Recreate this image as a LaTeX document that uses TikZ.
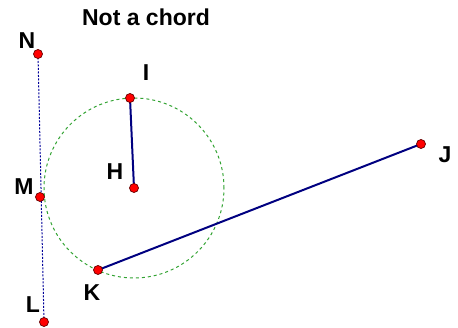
\documentclass[tikz,border=0pt]{standalone}
\usepackage{fontspec}
\setmainfont{Liberation Sans}
\usetikzlibrary{backgrounds}

\begin{document}
\begin{tikzpicture}[
  x=1pt,y=-1pt,
  font=\fontsize{23}{27}\selectfont\bfseries,
  pt/.style={circle,fill=red,draw=red!40!black,line width=0.7pt,inner sep=0pt,minimum size=9pt},
  lbl/.style={inner sep=0pt},
  seg/.style={draw=blue!50!black,line width=2pt},
  aux/.style={draw=blue!60!black,line width=1pt,dash pattern=on 2pt off 1.5pt},
  circ/.style={draw=green!55!black!80,line width=1pt,dash pattern=on 3pt off 3pt},
]
\useasboundingbox (0,0) rectangle (458,328);

\node[pt] (N) at (38,54) {};
\node[pt] (I) at (130,98) {};
\node[pt] (H) at (134,188) {};
\node[pt] (M) at (40,197) {};
\node[pt] (K) at (98,270) {};
\node[pt] (L) at (44,322) {};
\node[pt] (J) at (421,144) {};

\begin{scope}[on background layer]
\draw[circ] (H.center) circle[radius=90pt];
\draw[aux] (N.center) -- (L.center);
\draw[seg] (I.center) -- (H.center);
\draw[seg] (K.center) -- (J.center);
\end{scope}

\node[lbl] (Nlab) at (27,41) {N};
\node[lbl] (Ilab) at (146,73) {I};
\node[lbl] (Hlab) at (115,172) {H};
\node[lbl] (Mlab) at (24,187) {M};
\node[lbl] (Klab) at (92,293) {K};
\node[lbl] (Llab) at (33,305) {L};
\node[lbl] (Jlab) at (445,155) {J};

\node[lbl] (title) at (146,17) {Not a chord};
\end{tikzpicture}
\end{document}
